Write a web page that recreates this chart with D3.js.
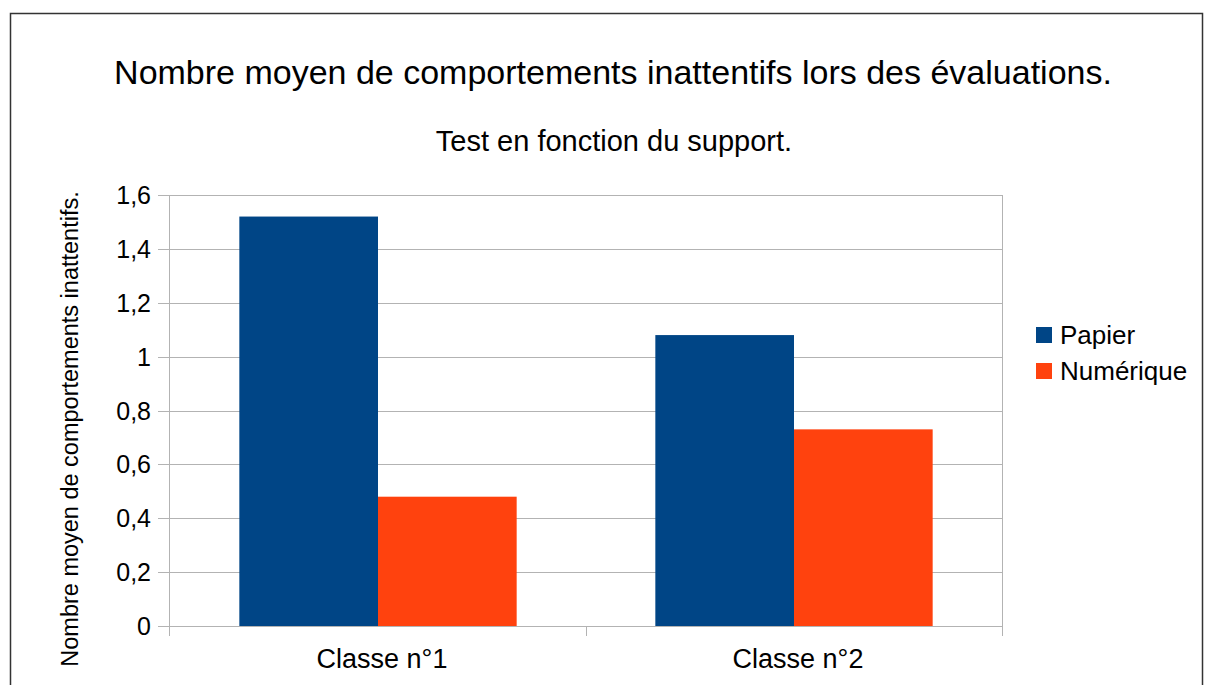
<!DOCTYPE html>
<html>
<head>
<meta charset="UTF-8">
<title>Nombre moyen de comportements inattentifs</title>
<script src="https://cdn.jsdelivr.net/npm/d3@7"></script>
<style>
  body { margin: 0; background: #fff; }
  text { font-family: "Liberation Sans", Arial, sans-serif; fill: #000; }
  .grid line { stroke: #b3b3b3; }
</style>
</head>
<body>
<div id="graphe"></div>
<script>
// données
var classes = ["Classe n°1", "Classe n°2"];
var series = ["Papier", "Numérique"];
var papier = [1.52, 1.08];
var numerique = [0.48, 0.73];
var couleurs = ["#004586", "#ff420e"];
var yTicks = [0, 0.2, 0.4, 0.6, 0.8, 1, 1.2, 1.4, 1.6];

var width = 1205, height = 685;
var margin = {top: 195, right: 203, bottom: 59, left: 170};

var svg = d3.select("#graphe").append("svg")
    .attr("width", width)
    .attr("height", height);

// cadre
svg.append("rect")
    .attr("x", 10.5).attr("y", 13.5)
    .attr("width", 1192).attr("height", 700)
    .attr("fill", "none")
    .attr("stroke", "#333")
    .attr("stroke-width", 1.5);

var x0 = d3.scaleBand()
    .domain(classes)
    .range([margin.left, width - margin.right])
    .paddingInner(0).paddingOuter(0);

var x1 = d3.scaleBand()
    .domain(series)
    .range([0, x0.bandwidth() * 2 / 3]);

var y = d3.scaleLinear()
    .domain([0, 1.6])
    .range([height - margin.bottom, margin.top]);

var fmt = function(d) { return String(d).replace(".", ","); };

// grille horizontale
var grid = svg.append("g").attr("class", "grid");
grid.selectAll("line")
    .data(yTicks)
    .enter().append("line")
    .attr("x1", margin.left - 12)
    .attr("x2", width - margin.right)
    .attr("y1", function(d) { return Math.round(y(d)) + 0.5; })
    .attr("y2", function(d) { return Math.round(y(d)) + 0.5; });

// axe vertical et bord droit
grid.append("line")
    .attr("x1", margin.left - 0.5).attr("x2", margin.left - 0.5)
    .attr("y1", margin.top).attr("y2", height - margin.bottom + 10);
grid.append("line")
    .attr("x1", width - margin.right + 0.5).attr("x2", width - margin.right + 0.5)
    .attr("y1", margin.top).attr("y2", height - margin.bottom + 10);
grid.append("line")
    .attr("x1", x0(classes[1]) + 0.5).attr("x2", x0(classes[1]) + 0.5)
    .attr("y1", height - margin.bottom).attr("y2", height - margin.bottom + 10);

// libellés de l'axe y
svg.append("g").selectAll("text")
    .data(yTicks)
    .enter().append("text")
    .attr("x", margin.left - 19)
    .attr("y", function(d) { return y(d); })
    .attr("dy", "0.36em")
    .attr("text-anchor", "end")
    .style("font-size", "25px")
    .text(fmt);

// barres
var valeurs = [papier, numerique];
var groupe = svg.append("g").selectAll("g")
    .data(classes)
    .enter().append("g")
    .attr("transform", function(d) { return "translate(" + (x0(d) + x0.bandwidth() / 6) + ",0)"; });

groupe.selectAll("rect")
    .data(function(d, i) { return series.map(function(s, j) { return {s: s, v: valeurs[j][i], c: couleurs[j]}; }); })
    .enter().append("rect")
    .attr("x", function(d) { return x1(d.s); })
    .attr("width", x1.bandwidth())
    .attr("y", function(d) { return y(d.v); })
    .attr("height", function(d) { return y(0) - y(d.v); })
    .attr("fill", function(d) { return d.c; });

// libellés de l'axe x
svg.append("g").selectAll("text")
    .data(classes)
    .enter().append("text")
    .attr("x", function(d) { return x0(d) + x0.bandwidth() / 2 + 4; })
    .attr("y", 668)
    .attr("text-anchor", "middle")
    .style("font-size", "27px")
    .text(function(d) { return d; });

// titres
svg.append("text")
    .attr("x", 613).attr("y", 84)
    .attr("text-anchor", "middle")
    .style("font-size", "34px")
    .text("Nombre moyen de comportements inattentifs lors des évaluations.");

svg.append("text")
    .attr("x", 614).attr("y", 151)
    .attr("text-anchor", "middle")
    .style("font-size", "29px")
    .text("Test en fonction du support.");

svg.append("text")
    .attr("transform", "translate(78,429) rotate(-90)")
    .attr("text-anchor", "middle")
    .style("font-size", "23.5px")
    .text("Nombre moyen de comportements inattentifs.");

// légende
var legende = svg.append("g").selectAll("g")
    .data(series)
    .enter().append("g")
    .attr("transform", function(d, i) { return "translate(1036," + (327 + i * 36) + ")"; });

legende.append("rect")
    .attr("width", 16).attr("height", 16)
    .attr("fill", function(d, i) { return couleurs[i]; });

legende.append("text")
    .attr("x", 24).attr("y", 8)
    .attr("dy", "0.36em")
    .style("font-size", "26px")
    .text(function(d) { return d; });
</script>
</body>
</html>
